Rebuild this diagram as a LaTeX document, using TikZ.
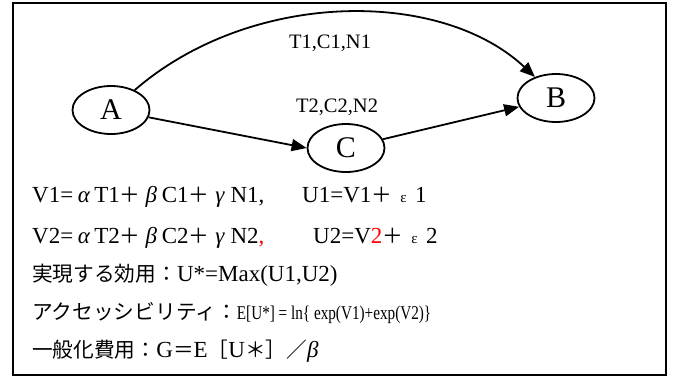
\documentclass[tikz,border=0pt]{standalone}
\usepackage{fontspec}
\usepackage{graphicx}
\setmainfont{Liberation Serif}
\newfontfamily\jpf{Noto Sans CJK JP}[Scale=0.9]
\usetikzlibrary{arrows.meta,shapes.geometric}
\newcommand{\J}[1]{{\jpf #1}}
\newcommand{\gk}[1]{\makebox[0.92em]{\itshape #1}}
\newcommand{\smeps}{\makebox[1em]{\fontsize{15}{15}\selectfont ε}}
\begin{document}
\begin{tikzpicture}[x=1pt,y=-1pt,
  ell/.style={ellipse, draw, line width=1.8pt, minimum width=77pt, minimum height=48pt, inner sep=0pt, font=\fontsize{30}{32}\selectfont},
  arr/.style={line width=1.8pt, -{Triangle[length=15pt,width=12pt]}},
  lbl/.style={inner sep=0pt, font=\fontsize{20.5}{22}\selectfont},
  txt/.style={anchor=base west, inner sep=0pt, font=\fontsize{23}{25}\selectfont}]
\useasboundingbox (0,0) rectangle (675,378);
\draw[line width=2.6pt] (13,3) rectangle (666,375);
\node[ell] (A) at (111,110) {A};
\node[ell] (C) at (346,148) {C};
\node[ell] (B) at (556,98) {B};
\draw[arr] (A.40) .. controls (250,-10) and (440,-12) .. (B.135);
\draw[arr] (A) -- (C.west);
\draw[arr] (C) -- (B);
\node[lbl] (t1) at (330,43) {T1,C1,N1};
\node[lbl] (t2) at (337,107) {T2,C2,N2};
\node[txt] (l1a) at (32,202) {V1=\gk{α}T1\J{＋}\gk{β}C1\J{＋}\gk{γ}N1,};
\node[txt] (l1b) at (302,202) {U1=V1\J{＋}\smeps 1};
\node[txt] (l2a) at (32,243) {V2=\gk{α}T2\J{＋}\gk{β}C2\J{＋}\gk{γ}N2\textcolor{red}{,}};
\node[txt] (l2b) at (313,243) {U2=V\textcolor{red}{2}\J{＋}\smeps 2};
\node[txt] (l3) at (32,281) {\J{実現する効用：}U*=Max(U1,U2)};
\node[txt] (l4) at (32,319) {\J{アクセッシビリティ：}\scalebox{0.78}[1]{\fontsize{19.5}{22}\selectfont E[U*] = ln\{ exp(V1)+exp(V2)\}}};
\node[txt] (l5) at (32,357) {\J{一般化費用：}G\J{＝}E\J{［}U\J{＊］／}\textit{β}};
\end{tikzpicture}
\end{document}
